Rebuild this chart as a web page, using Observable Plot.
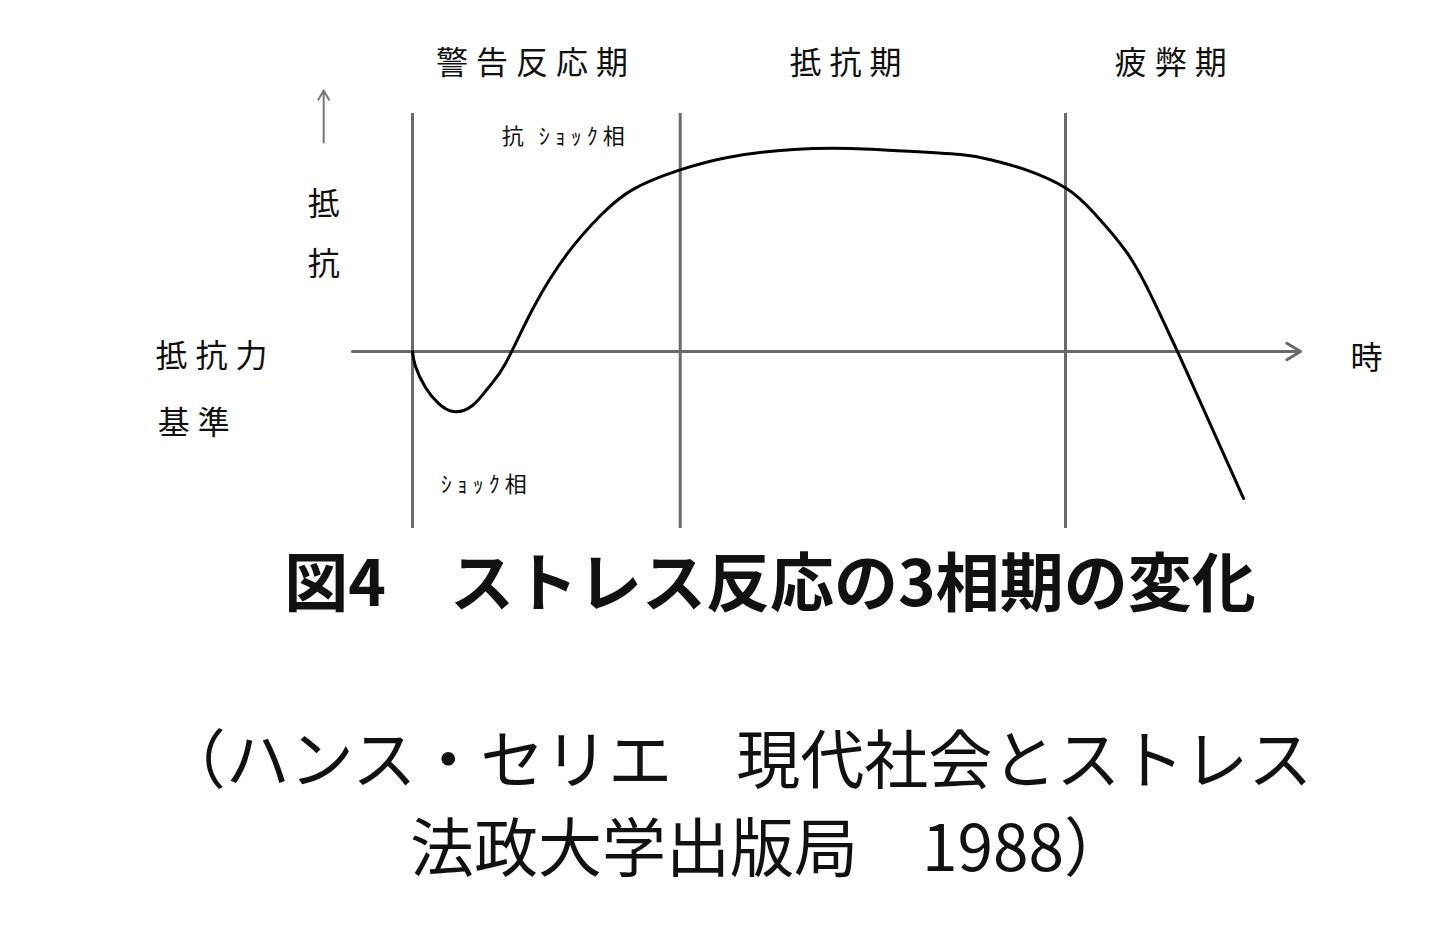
<!DOCTYPE html>
<html>
<head>
<meta charset="utf-8">
<script src="https://cdn.jsdelivr.net/npm/d3@7"></script>
<script src="https://cdn.jsdelivr.net/npm/@observablehq/plot@0.6"></script>
<style>
  html, body { margin: 0; padding: 0; background: #fff; }
  body { width: 1440px; height: 931px; position: relative; overflow: hidden; font-family: "Noto Sans CJK JP", sans-serif; }
  #chart { position: absolute; left: 0; top: 0; }
  #title { position: absolute; left: 0; top: 538px; width: 1440px; height: 80px; line-height: 80px; text-align: center; font-size: 64px; font-weight: bold; color: #111; padding-left: 100px; box-sizing: border-box; }
  .cap { position: absolute; left: 0; width: 1440px; text-align: center; font-size: 64px; line-height: 88px; color: #111; box-sizing: border-box; }
  #cap1 { top: 711px; padding-left: 34px; }
  #cap2 { top: 799px; padding-left: 98px; }
</style>
</head>
<body>
<div id="chart"></div>
<div id="title"></div>
<div id="cap1" class="cap"></div>
<div id="cap2" class="cap"></div>
<script>
// Time (phase units: alarm onset = 0, exhaustion onset = 100) and resistance (baseline = 0, plateau = 100)
const curveT = [0, 0.46, 1.99, 3.98, 6.28, 9.19, 11.64, 14.24, 18.53, 23.74, 28.79, 33.84, 40.74, 48.24, 58.35, 67.08, 73.66, 83.92, 88.97, 94.18, 100.15, 104.29, 109.49, 113.48, 117.15, 120.67, 127.26];
const curveR = [0, -7.4, -17.7, -25.6, -29.6, -26.6, -17.7, -5.9, 21.7, 48.3, 67.0, 80.0, 89.2, 95.6, 99.5, 100, 99.0, 97.0, 94.1, 89.2, 80.3, 68.5, 48.3, 25.1, 0, -25.1, -72.4];
const phaseBounds = [0, 41, 100];
const phaseNames = ["警告反応期", "抵抗期", "疲弊期"];
const phaseCenters = [18.3, 66.3, 116.1];
const subPhaseNames = ["抗 ｼｮｯｸ相", "ｼｮｯｸ相"];
const subPhaseT = [23.1, 10.9];
const subPhaseR = [105.9, -65.5];
const axisLabels = ["抵抗力", "基準", "時", "抵", "抗"];
const axisLabelT = [-30.8, -33.5, 146.1, -13.6, -13.6];
const axisLabelR = [-2.5, -35.5, -3.4, 72.4, 42.9];
const titleText = "図4　ストレス反応の3相期の変化";
const captionLines = ["（ハンス・セリエ　現代社会とストレス", "法政大学出版局　1988）"];

const curve = curveT.map((t, i) => ({t, r: curveR[i]}));
const phases = phaseNames.map((name, i) => ({name, t: phaseCenters[i]}));
const subs = subPhaseNames.map((name, i) => ({name, t: subPhaseT[i], r: subPhaseR[i]}));
const axl = axisLabels.map((name, i) => ({name, t: axisLabelT[i], r: axisLabelR[i]}));

const font = "Noto Sans CJK JP";
const chart = Plot.plot({
  width: 1440,
  height: 540,
  margin: 0,
  style: {background: "#fff"},
  x: {domain: [0, 100], range: [412, 1065], axis: null},
  y: {domain: [0, 100], range: [351, 148], axis: null},
  marks: [
    Plot.ruleX(phaseBounds, {x: d => d, y1: -87.2, y2: 117.2, stroke: "#6a6a6a", strokeWidth: 3}),
    Plot.arrow([{a: -9.2, b: 136}], {x1: "a", x2: "b", y1: 0, y2: 0, stroke: "#6a6a6a", strokeWidth: 3, headLength: 8, headAngle: 62}),
    Plot.arrow([{a: 103, b: 128.6}], {x1: -13.6, x2: -13.6, y1: "a", y2: "b", stroke: "#777", strokeWidth: 2, headLength: 8, headAngle: 60}),
    Plot.line(curve, {x: "t", y: "r", curve: "natural", stroke: "#000", strokeWidth: 3}),
    Plot.text(phases, {x: "t", text: "name", y: 117.2, dy: -50, fontSize: 32, fontFamily: font, fill: "#111", className: "spaced"}),
    Plot.text(axl, {x: "t", y: "r", text: "name", fontSize: 32, fontFamily: font, fill: "#111", className: "spaced"}),
    Plot.text(subs, {x: "t", y: "r", text: "name", fontSize: 22, fontFamily: font, fill: "#111", className: "small"})
  ]
});
document.getElementById("chart").appendChild(chart);
d3.select(chart).selectAll(".spaced text").style("letter-spacing", "8px").attr("dx", 4);
d3.select(chart).selectAll(".small text").style("letter-spacing", "5px").attr("dx", 2.5);

document.getElementById("title").textContent = titleText;
document.getElementById("cap1").textContent = captionLines[0];
document.getElementById("cap2").textContent = captionLines[1];
</script>
</body>
</html>
